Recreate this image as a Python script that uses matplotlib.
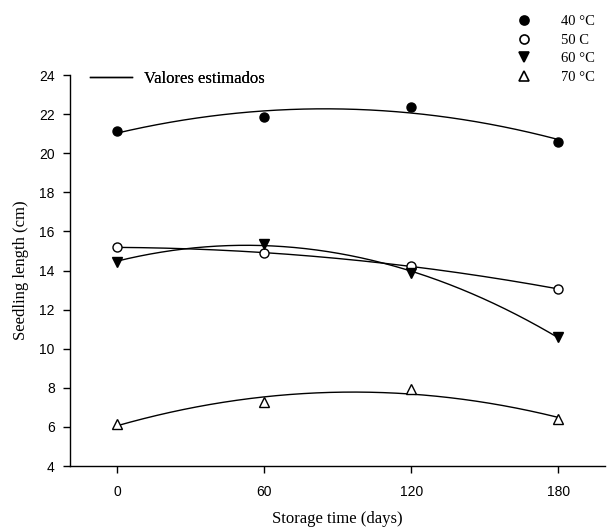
import numpy as np
import matplotlib
matplotlib.use("Agg")
import matplotlib.pyplot as plt
from matplotlib.lines import Line2D

days = [0, 60, 120, 180]
s40 = [21.14, 21.85, 22.38, 20.6]
s50 = [15.2, 14.88, 14.25, 13.05]
s60 = [14.45, 15.38, 13.87, 10.6]
s70 = [6.15, 7.27, 7.95, 6.4]
labels = ["40 °C", "50 C", "60 °C", "70 °C"]
xticks = [0, 60, 120, 180]
yticks = [4, 6, 8, 10, 12, 14, 16, 18, 20, 22, 24]

serif = ["Liberation Serif", "DejaVu Serif"]
sans = ["Liberation Sans", "DejaVu Sans"]

fig = plt.figure(figsize=(6.09, 5.29), dpi=100)
ax = fig.add_axes([0.115, 0.119, 0.878, 0.739])

series = [s40, s50, s60, s70]
styles = [dict(marker="o", mfc="black"), dict(marker="o", mfc="white"),
          dict(marker="v", mfc="black"), dict(marker="^", mfc="white")]
xx = np.linspace(0, 180, 200)
handles = []
for ys, st, lab in zip(series, styles, labels):
    c = np.polyfit(days, ys, 2)
    ax.plot(xx, np.polyval(c, xx), color="black", lw=1.0)
    ax.plot(days, ys, ls="none", marker=st["marker"], mfc=st["mfc"], mec="black",
            mew=1.0, ms=6.5, zorder=3)
    handles.append(Line2D([], [], ls="none", marker=st["marker"], mfc=st["mfc"],
                          mec="black", mew=1.2, ms=6.5))

ax.set_xlim(-19.2, 199)
ax.set_ylim(4, 24)
ax.set_xticks(xticks)
ax.set_yticks(yticks)
for sp in ["top", "right"]:
    ax.spines[sp].set_visible(False)
for sp in ["left", "bottom"]:
    ax.spines[sp].set_linewidth(1.0)
ax.tick_params(direction="out", length=5, width=1, labelsize=10, pad=6)
ax.tick_params(axis="x", pad=9)
for t in ax.get_xticklabels() + ax.get_yticklabels():
    t.set_fontfamily(sans)

ax.set_xlabel("Storage time (days)", family=serif, fontsize=12, labelpad=8)
ax.set_ylabel("Seedling length (cm)", family=serif, fontsize=12, labelpad=7)

leg1 = ax.legend([Line2D([], [], color="black", lw=1.0)], ["Valores estimados"],
                 loc="upper left", bbox_to_anchor=(0.01, 1.05), frameon=False,
                 prop={"family": serif, "size": 12}, handlelength=2.5,
                 handletextpad=0.7)
ax.add_artist(leg1)

fig.legend(handles, labels, loc="upper left", bbox_to_anchor=(0.815, 0.997),
           frameon=False, prop={"family": serif, "size": 10.5},
           handletextpad=1.5, labelspacing=0.38)

fig.savefig("out.png", dpi=100)
